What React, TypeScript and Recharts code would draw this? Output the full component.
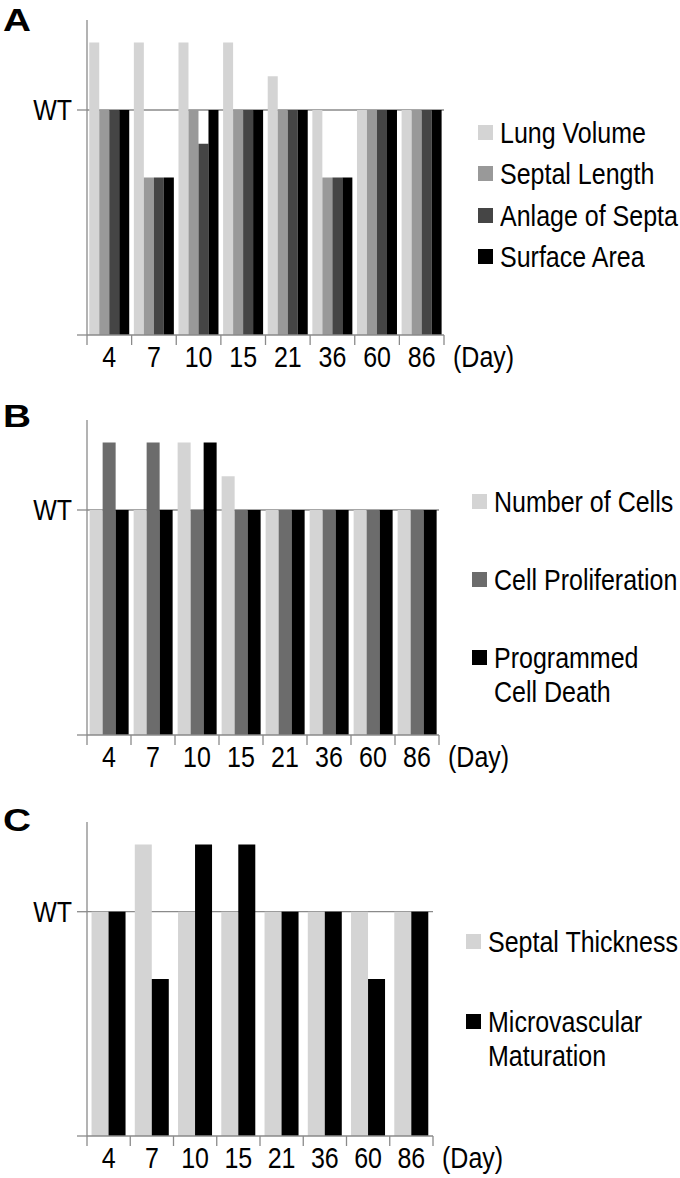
import React from 'react';
import { BarChart, Bar, XAxis, YAxis, CartesianGrid, Legend, Label } from 'recharts';

const DAYS = ['4', '7', '10', '15', '21', '36', '60', '86'];

// Panel A
const LUNG_VOLUME = [13, 13, 13, 13, 11.5, 10, 10, 10];
const SEPTAL_LENGTH = [10, 7, 10, 10, 10, 7, 10, 10];
const ANLAGE_OF_SEPTA = [10, 7, 8.5, 10, 10, 7, 10, 10];
const SURFACE_AREA = [10, 7, 10, 10, 10, 7, 10, 10];

// Panel B
const NUMBER_OF_CELLS = [10, 10, 13, 11.5, 10, 10, 10, 10];
const CELL_PROLIFERATION = [13, 13, 10, 10, 10, 10, 10, 10];
const PROGRAMMED_CELL_DEATH = [10, 10, 13, 10, 10, 10, 10, 10];

// Panel C
const SEPTAL_THICKNESS = [10, 13, 10, 10, 10, 10, 10, 10];
const MICROVASCULAR_MATURATION = [10, 7, 13, 13, 10, 10, 7, 10];

const Y_TICKS = [0, 10];
const WT_VALUE = 10;

const dataA = DAYS.map((d, i) => ({
  day: d,
  lv: LUNG_VOLUME[i],
  sl: SEPTAL_LENGTH[i],
  as: ANLAGE_OF_SEPTA[i],
  sa: SURFACE_AREA[i],
}));
const dataB = DAYS.map((d, i) => ({
  day: d,
  nc: NUMBER_OF_CELLS[i],
  cp: CELL_PROLIFERATION[i],
  pcd: PROGRAMMED_CELL_DEATH[i],
}));
const dataC = DAYS.map((d, i) => ({
  day: d,
  st: SEPTAL_THICKNESS[i],
  mm: MICROVASCULAR_MATURATION[i],
}));

const FONT = '"Liberation Sans", Arial, Helvetica, sans-serif';
const AXIS = '#8a8a8a';
const SY = 1.2;

function XTick(props: any) {
  const { x, y, payload, index, bw, n } = props;
  const axisY = y - 10;
  const left = x - bw / 2;
  return (
    <g>
      <line x1={left} y1={axisY} x2={left} y2={axisY + 10} stroke={AXIS} strokeWidth={1.3} />
      {index === n - 1 && (
        <line x1={left + bw} y1={axisY} x2={left + bw} y2={axisY + 10} stroke={AXIS} strokeWidth={1.3} />
      )}
      <text
        transform={`translate(${x},${axisY + 32}) scale(1,${SY})`}
        textAnchor="middle"
        fontFamily={FONT}
        fontSize={25}
        fill="#000"
      >
        {payload.value}
      </text>
    </g>
  );
}

function YTick(props: any) {
  const { x, y, payload } = props;
  if (payload.value !== WT_VALUE) return <g />;
  return (
    <text
      transform={`translate(${x},${y + 10}) scale(1,${SY})`}
      textAnchor="end"
      fontFamily={FONT}
      fontSize={25}
      fill="#000"
    >
      WT
    </text>
  );
}

function DayLabel(props: any) {
  const vb = props.viewBox || {};
  return (
    <text
      transform={`translate(${vb.x + vb.width + 9},${vb.y + 32}) scale(1,${SY})`}
      textAnchor="start"
      fontFamily={FONT}
      fontSize={25}
      fill="#000"
    >
      (Day)
    </text>
  );
}

function makeLegend(pitch: number, order: string[]) {
  return function LegendContent(props: any) {
    const payload = [...(props.payload || [])].sort(
      (a: any, b: any) => order.indexOf(a.dataKey) - order.indexOf(b.dataKey)
    );
    return (
      <div style={{ fontFamily: FONT, position: 'relative' }}>
        {payload.map((p: any, i: number) => (
          <div
            key={i}
            style={{
              position: 'absolute',
              left: 0,
              top: i * pitch,
              display: 'flex',
              alignItems: 'flex-start',
              whiteSpace: 'nowrap',
            }}
          >
            <div style={{ width: 15, height: 15, background: p.color, marginTop: 10, marginRight: 7, flex: 'none' }} />
            <div
              style={{
                fontSize: 25,
                lineHeight: '29px',
                color: '#000',
                transform: `scaleY(${SY})`,
                transformOrigin: 'top left',
                whiteSpace: 'pre-line',
              }}
            >
              {p.value}
            </div>
          </div>
        ))}
      </div>
    );
  };
}

function Letter({ ch, top }: { ch: string; top: number }) {
  return (
    <div
      style={{
        position: 'absolute',
        left: 3,
        top,
        fontFamily: FONT,
        fontWeight: 'bold',
        fontSize: 31,
        lineHeight: '31px',
        transform: 'scaleX(1.25)',
        transformOrigin: 'left top',
        color: '#000',
      }}
    >
      {ch}
    </div>
  );
}

function Panel({
  data,
  top,
  height,
  marginTop,
  plotW,
  xAxisH,
  gap,
  series,
  legendTop,
  legendLeft,
  legendPitch,
}: any) {
  const bw = plotW / DAYS.length;
  const LegendContent = makeLegend(legendPitch, series.map((s: any) => s.key));
  return (
    <div style={{ position: 'absolute', left: 0, top, width: 680, height }}>
      <BarChart
        width={680}
        height={height}
        data={data}
        margin={{ top: marginTop, right: 680 - 87 - plotW, bottom: 0, left: 0 }}
        barCategoryGap={gap}
        barGap={0}
      >
        <CartesianGrid vertical={false} horizontalValues={[WT_VALUE]} stroke={AXIS} strokeWidth={1.3} />
        <XAxis
          dataKey="day"
          height={xAxisH}
          axisLine={{ stroke: AXIS, strokeWidth: 1.3 }}
          tickLine={false}
          tickSize={10}
          tickMargin={0}
          interval={0}
          tick={<XTick bw={bw} n={DAYS.length} />}
        >
          <Label content={DayLabel} />
        </XAxis>
        <YAxis
          width={87}
          domain={[0, 14]}
          ticks={Y_TICKS}
          tickSize={10}
          tickMargin={5}
          axisLine={{ stroke: AXIS, strokeWidth: 1.3 }}
          tickLine={{ stroke: AXIS, strokeWidth: 1.3 }}
          tick={<YTick />}
          allowDataOverflow
        />
        <Legend
          layout="horizontal"
          verticalAlign="middle"
          align="center"
          content={LegendContent}
          wrapperStyle={{ position: 'absolute', left: legendLeft, top: legendTop, width: 680 - legendLeft, height: 10 }}
        />
        {series.map((s: any) => (
          <Bar key={s.key} dataKey={s.key} name={s.name} fill={s.color} isAnimationActive={false} />
        ))}
      </BarChart>
    </div>
  );
}

const SERIES_A = [
  { key: 'lv', name: 'Lung Volume', color: '#d4d4d4' },
  { key: 'sl', name: 'Septal Length', color: '#999999' },
  { key: 'as', name: 'Anlage of Septa', color: '#454545' },
  { key: 'sa', name: 'Surface Area', color: '#000000' },
];
const SERIES_B = [
  { key: 'nc', name: 'Number of Cells', color: '#d4d4d4' },
  { key: 'cp', name: 'Cell Proliferation', color: '#6c6c6c' },
  { key: 'pcd', name: 'Programmed\nCell Death', color: '#000000' },
];
const SERIES_C = [
  { key: 'st', name: 'Septal Thickness', color: '#d4d4d4' },
  { key: 'mm', name: 'Microvascular\nMaturation', color: '#000000' },
];

export default function App() {
  return (
    <div style={{ position: 'absolute', left: 0, top: 0, width: 680, height: 1178, background: '#fff', overflow: 'hidden' }}>
      <Panel
        data={dataA}
        top={0}
        height={380}
        marginTop={20}
        plotW={357}
        xAxisH={45}
        gap="5%"
        series={SERIES_A}
        legendTop={115}
        legendLeft={478}
        legendPitch={41.3}
      />
      <Panel
        data={dataB}
        top={400}
        height={380}
        marginTop={20}
        plotW={352}
        xAxisH={45}
        gap="6%"
        series={SERIES_B}
        legendTop={84}
        legendLeft={472}
        legendPitch={78}
      />
      <Panel
        data={dataC}
        top={800}
        height={378}
        marginTop={22}
        plotW={346}
        xAxisH={42}
        gap="10.5%"
        series={SERIES_C}
        legendTop={124}
        legendLeft={466}
        legendPitch={80}
      />
      <Letter ch="A" top={5} />
      <Letter ch="B" top={401} />
      <Letter ch="C" top={805} />
    </div>
  );
}
